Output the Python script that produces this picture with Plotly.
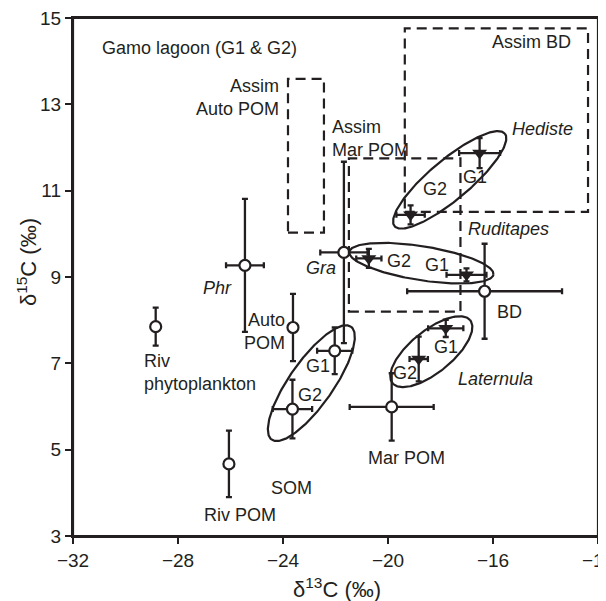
import numpy as np
import plotly.graph_objects as go

# ---- data: open-circle sources ----
src_names = ["Riv phytoplankton", "Riv POM", "Phr", "Auto POM", "SOM G2", "SOM G1", "Gra", "Mar POM", "BD"]
src_x = [-28.85, -26.06, -25.45, -23.62, -23.64, -22.03, -21.68, -19.86, -16.32]
src_y = [7.85, 4.67, 9.27, 7.83, 5.94, 7.29, 9.57, 5.99, 8.67]
src_xerr = [0.0, 0.0, 0.72, 0.0, 0.75, 0.67, 0.9, 1.6, 2.95]
src_yerr = [0.44, 0.77, 1.54, 0.78, 0.68, 0.54, 2.1, 0.78, 1.1]

# ---- data: filled-triangle consumers ----
con_names = ["Hediste G1", "Hediste G2", "Ruditapes G2", "Ruditapes G1", "Laternula G1", "Laternula G2"]
con_x = [-16.51, -19.14, -20.73, -17.01, -17.80, -18.83]
con_y = [11.87, 10.44, 9.43, 9.05, 7.81, 7.10]
con_xerr = [0.78, 0.54, 0.48, 0.76, 0.67, 0.35]
con_yerr = [0.35, 0.22, 0.22, 0.15, 0.20, 0.52]

# ---- dashed assimilation boxes: x0, x1, y0, y1 ----
box_names = ["Assim Auto POM", "Assim Mar POM", "Assim BD"]
box_x0 = [-23.81, -21.49, -19.36]
box_x1 = [-22.44, -17.24, -12.38]
box_y0 = [10.03, 8.20, 10.51]
box_y1 = [13.59, 11.75, 14.76]

# ---- group ellipses: centre (data), semi-axes (px), angle (deg) ----
ell_cx = [-17.65, -18.73, -22.92, -18.35]
ell_cy = [11.25, 9.32, 6.54, 7.27]
ell_a = [72, 73, 69, 50]
ell_b = [20, 17, 22, 21]
ell_ang = [40, -9, 55, 39]

XR = [-32, -12]
YR = [3, 15]
xticks = [-32, -28, -24, -20, -16, -12]
yticks = [3, 5, 7, 9, 11, 13, 15]

# page body adds an 8px offset; margins compensate for it
W, H = 606, 601
ML, MR, MT, MB = 65, 16, 10, 73
SX = (W - ML - MR) / (XR[1] - XR[0])
SY = (H - MT - MB) / (YR[1] - YR[0])

INK = "#231f20"
FONT = "Liberation Sans, Arial, Helvetica, sans-serif"

fig = go.Figure()

# ellipses
t = np.linspace(0, 2 * np.pi, 240)
for cx, cy, a, b, ang in zip(ell_cx, ell_cy, ell_a, ell_b, ell_ang):
    th = np.radians(ang)
    dxp = a * np.cos(t) * np.cos(th) - b * np.sin(t) * np.sin(th)
    dyp = a * np.cos(t) * np.sin(th) + b * np.sin(t) * np.cos(th)
    fig.add_trace(go.Scatter(x=cx + dxp / SX, y=cy + dyp / SY, mode="lines",
                             line=dict(color=INK, width=2.2), hoverinfo="skip", showlegend=False))

# dashed boxes
for x0, x1, y0, y1 in zip(box_x0, box_x1, box_y0, box_y1):
    fig.add_shape(type="rect", x0=x0, x1=x1, y0=y0, y1=y1, xref="x", yref="y",
                  line=dict(color=INK, width=2.2, dash="10px,6px"), fillcolor="rgba(0,0,0,0)")

# plot frame
fig.add_shape(type="rect", x0=0, x1=1, y0=0, y1=1, xref="paper", yref="paper",
              line=dict(color=INK, width=2.2), fillcolor="rgba(0,0,0,0)", layer="above")

# consumers
fig.add_trace(go.Scatter(
    x=con_x, y=con_y, mode="markers", text=con_names, showlegend=False,
    marker=dict(symbol="triangle-down", size=13, color=INK, line=dict(width=0)),
    error_x=dict(type="data", array=con_xerr, color=INK, thickness=2.3, width=3),
    error_y=dict(type="data", array=con_yerr, color=INK, thickness=2.3, width=3),
))

# sources
fig.add_trace(go.Scatter(
    x=src_x, y=src_y, mode="markers", text=src_names, showlegend=False,
    marker=dict(symbol="circle", size=11, color="white", line=dict(color=INK, width=2.2)),
    error_x=dict(type="data", array=src_xerr, color=INK, thickness=2.3, width=3),
    error_y=dict(type="data", array=src_yerr, color=INK, thickness=2.3, width=3),
))

# labels
labels = [
    ("Gamo lagoon (G1 & G2)", -30.98, 14.31, "left", False),
    ("Assim<br>Auto POM", -24.06, 13.15, "right", False),
    ("Assim<br>Mar POM", -22.22, 12.20, "left", False),
    ("Assim BD", -12.95, 14.45, "right", False),
    ("Hediste", -15.36, 12.44, "left", True),
    ("G2", -18.22, 11.05, "center", False),
    ("G1", -16.70, 11.32, "center", False),
    ("Ruditapes", -17.01, 10.11, "left", True),
    ("G2", -19.59, 9.38, "center", False),
    ("G1", -18.13, 9.28, "center", False),
    ("Gra", -22.54, 9.20, "center", True),
    ("Phr", -26.48, 8.74, "center", True),
    ("BD", -15.94, 8.20, "left", False),
    ("Auto<br>POM", -23.85, 7.73, "right", False),
    ("Riv<br>phytoplankton", -29.39, 6.78, "left", False),
    ("Riv POM", -25.65, 3.49, "center", False),
    ("SOM", -23.66, 4.11, "center", False),
    ("G1", -22.67, 6.94, "center", False),
    ("G2", -22.98, 6.27, "center", False),
    ("G1", -17.78, 7.39, "center", False),
    ("G2", -19.36, 6.77, "center", False),
    ("Laternula", -17.41, 6.64, "left", True),
    ("Mar POM", -19.30, 4.80, "center", False),
]
for txt, x, y, anc, it in labels:
    fig.add_annotation(x=x, y=y, xref="x", yref="y", text=(f"<i>{txt}</i>" if it else txt),
                       showarrow=False, xanchor=anc, yanchor="middle", align=anc,
                       font=dict(family=FONT, size=18, color=INK))

# axis titles
fig.add_annotation(x=0.5, y=0, xref="paper", yref="paper", xshift=1, yshift=-52,
                   text="\u03b4<sup>13</sup>C (\u2030)", showarrow=False,
                   xanchor="center", yanchor="middle", font=dict(family=FONT, size=22, color=INK))
fig.add_annotation(x=0, y=0.5, xref="paper", yref="paper", xshift=-46, yshift=15,
                   text="\u03b4<sup>15</sup>C (\u2030)", showarrow=False, textangle=-90,
                   xanchor="center", yanchor="middle", font=dict(family=FONT, size=22, color=INK))

axis_common = dict(showline=True, linewidth=2.2, linecolor=INK, mirror=True,
                   ticks="outside", ticklen=6, tickwidth=2, tickcolor=INK,
                   showgrid=False, zeroline=False, automargin=False,
                   ticklabeloverflow="allow",
                   tickfont=dict(family=FONT, size=19, color=INK))

fig.update_layout(
    width=W, height=H,
    margin=dict(l=ML, r=MR, t=MT, b=MB),
    plot_bgcolor="white", paper_bgcolor="white",
    xaxis=dict(range=XR, tickvals=xticks, ticktext=[str(v).replace("-", "\u2212") for v in xticks],
               **axis_common),
    yaxis=dict(range=YR, tickvals=yticks, ticktext=[str(v) for v in yticks],
               **axis_common),
)

fig.write_html("out.html")
